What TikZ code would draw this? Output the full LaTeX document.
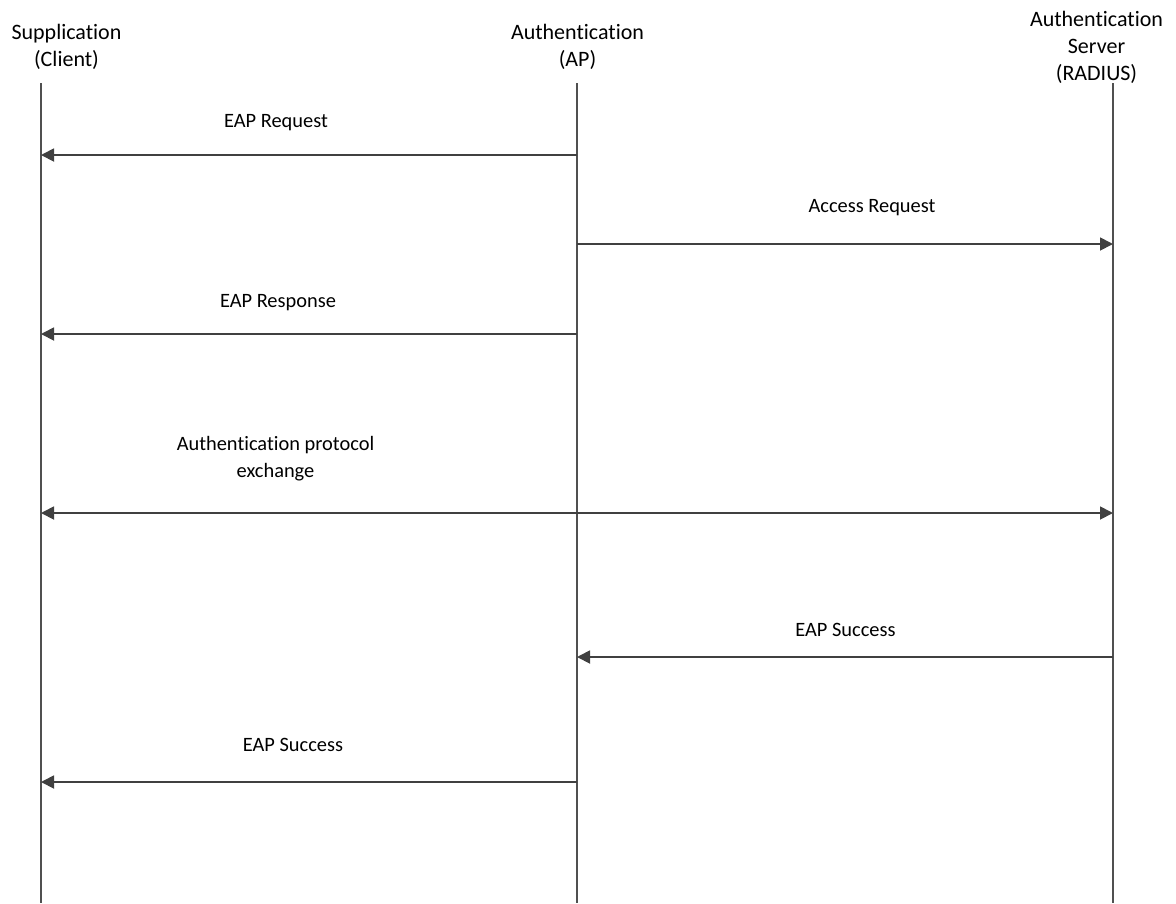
\documentclass[tikz,border=0pt]{standalone}
\usepackage{fontspec}
\setmainfont{Carlito}[RawFeature={-liga}]
\usetikzlibrary{arrows.meta}
\definecolor{lineclr}{HTML}{404040}
\definecolor{lifeclr}{HTML}{505050}
\tikzset{
  header/.style={align=center, text=black, font=\fontsize{22}{27}\selectfont, inner sep=0pt},
  msglabel/.style={align=center, text=black, font=\fontsize{20.4}{27}\selectfont, inner sep=0pt},
  lifeline/.style={draw=lifeclr, line width=1.4pt},
  tip/.style={Triangle[length=13pt,width=13pt]},
  msg/.style={draw=lineclr, line width=1.8pt, -{Triangle[length=13pt,width=13pt]}},
  msgboth/.style={draw=lineclr, line width=1.8pt, {Triangle[length=13pt,width=13pt]}-{Triangle[length=13pt,width=13pt]}}
}
\begin{document}
\begin{tikzpicture}[x=1pt, y=-1pt]
  \useasboundingbox (0,0) rectangle (1176,903);

  % participants
  \node[header] (hclient) at (66.5,47) {Supplication\\(Client)};
  \node[header] (hap) at (577.5,47) {Authentication\\(AP)};
  \node[header] (hsrv) at (1096.5,47) {Authentication\\Server\\(RADIUS)};

  % lifelines
  \coordinate (ctop) at (41,83);   \coordinate (cbot) at (41,903);
  \coordinate (atop) at (577,83);  \coordinate (abot) at (577,903);
  \coordinate (stop) at (1113,83); \coordinate (sbot) at (1113,903);
  \draw[lifeline] (ctop) -- (cbot);
  \draw[lifeline] (atop) -- (abot);
  \draw[lifeline] (stop) -- (sbot);

  % message end points on the lifelines
  \foreach \n/\y in {1/155, 2/244, 3/334, 4/513, 5/657, 6/782} {
    \coordinate (c\n) at (41,\y);
    \coordinate (a\n) at (577,\y);
    \coordinate (s\n) at (1113,\y);
  }

  % messages
  \draw[msg] (a1) -- (c1);
  \node[msglabel] (l1) at (276,123) {EAP Request};

  \draw[msg] (a2) -- (s2);
  \node[msglabel] (l2) at (872,208) {Access Request};

  \draw[msg] (a3) -- (c3);
  \node[msglabel] (l3) at (278,303) {EAP Response};

  \draw[msgboth] (c4) -- (s4);
  \node[msglabel] (l4) at (275.5,458.5) {Authentication protocol\\exchange};

  \draw[msg] (s5) -- (a5);
  \node[msglabel] (l5) at (845.5,630) {EAP Success};

  \draw[msg] (a6) -- (c6);
  \node[msglabel] (l6) at (293,745) {EAP Success};
\end{tikzpicture}
\end{document}
